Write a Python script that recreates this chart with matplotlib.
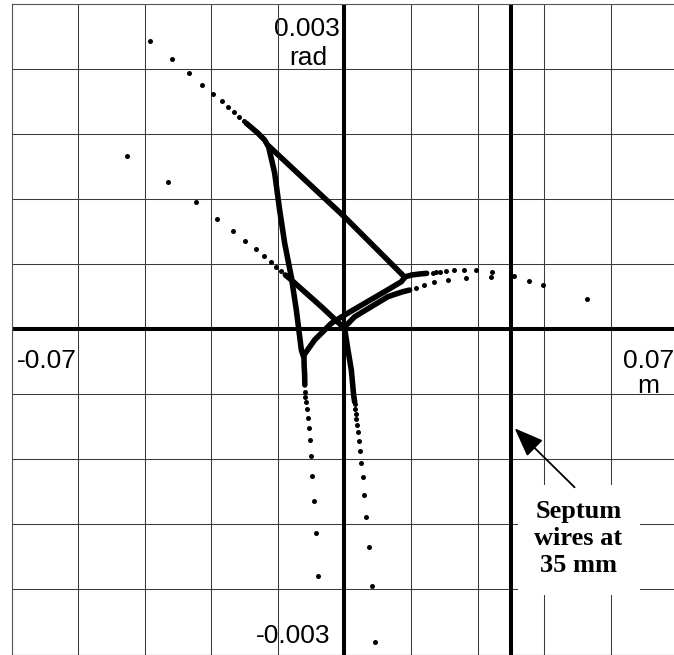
import numpy as np
import matplotlib
matplotlib.use("Agg")
import matplotlib.pyplot as plt
from matplotlib.patches import Rectangle

# phase space: x in mm, x' in mrad

# outer separatrix triangle (dense tracking -> drawn as thick lines)
edge_left_x = [-20.63, -18.25, -16.78, -15.94, -14.68, -13.63, -12.58, -11.17, -10.12, -9.06, -8.58]
edge_left_y = [1.896, 1.807, 1.742, 1.677, 1.438, 1.097, 0.793, 0.479, 0.175, -0.194, -0.258]

edge_top_x = [-15.94, 0.04, 12.66, 14.13, 15.81, 17.29]
edge_top_y = [1.687, 1.032, 0.479, 0.498, 0.507, 0.513]

edge_low_x = [12.66, 11.97, 8.45, 4.25, 0.04, -2.75, -6.27, -8.52, -8.48, -8.37, -8.33]
edge_low_y = [0.475, 0.436, 0.344, 0.237, 0.129, 0.053, -0.101, -0.240, -0.332, -0.424, -0.516]

# inner separatrix arms starting at the origin
inner_ul_x = [-12.43, -11.17, -4.86, 0.04]
inner_ul_y = [0.498, 0.452, 0.206, 0.005]

inner_r_x = [0.04, 2.15, 5.66, 9.15, 11.25, 12.30, 13.71]
inner_r_y = [0.018, 0.113, 0.206, 0.298, 0.329, 0.344, 0.359]

inner_d_x = [0.04, 0.67, 1.45, 1.93, 2.15]
inner_d_y = [0.005, -0.175, -0.378, -0.608, -0.673]

# particles leaving along the arms (sparse turns)
outer_ul_x = [-40.82, -36.19, -32.62, -29.88, -27.65, -25.82, -24.42, -23.15, -22.19, -21.20]
outer_ul_y = [2.654, 2.491, 2.360, 2.252, 2.169, 2.101, 2.046, 1.997, 1.954, 1.914]

outer_r_x = [18.61, 19.33, 20.17, 21.43, 23.03, 25.07, 27.59, 31.10, 35.58, 41.74, 51.00]
outer_r_y = [0.519, 0.523, 0.528, 0.535, 0.541, 0.541, 0.541, 0.528, 0.491, 0.408, 0.274]

outer_d_x = [-8.37, -8.22, -8.01, -7.89, -7.74, -7.53, -7.26, -7.05, -6.75, -6.33, -5.91, -5.49]
outer_d_y = [-0.578, -0.624, -0.676, -0.740, -0.818, -0.910, -1.026, -1.171, -1.352, -1.583, -1.880, -2.277]

arm_ul_x = [-45.74, -37.12, -31.15, -26.73, -23.45, -20.84, -18.67, -16.93, -15.52, -14.32, -13.27]
arm_ul_y = [1.595, 1.352, 1.168, 1.017, 0.903, 0.814, 0.735, 0.673, 0.618, 0.571, 0.532]

arm_r_x = [14.97, 16.80, 18.82, 21.77, 25.64, 30.85, 38.74]
arm_r_y = [0.381, 0.403, 0.430, 0.454, 0.473, 0.479, 0.445]

arm_d_x = [2.15, 2.29, 2.36, 2.50, 2.63, 2.84, 2.99, 3.26, 3.47, 3.83, 4.18, 4.61, 5.15, 5.78, 6.50]
arm_d_y = [-0.694, -0.740, -0.783, -0.832, -0.885, -0.952, -1.030, -1.122, -1.235, -1.367, -1.530,
           -1.736, -2.009, -2.366, -2.882]

septum_x = 35.0

fig = plt.figure(figsize=(6.74, 6.55), dpi=100)
ax = fig.add_axes([11.6 / 674, 0.5 / 655, 665.7 / 674, 651 / 655])
ax.set_xlim(-70, 70)
ax.set_ylim(-3, 3)
ax.set_xticks([])
ax.set_yticks([])
for s in ax.spines.values():
    s.set_color("#555555")
    s.set_linewidth(0.8)

# grid
for gx in np.arange(-70, 70.1, 14):
    ax.axvline(gx, color="#3a3a3a", lw=0.75, zorder=1)
for gy in np.arange(-3, 3.01, 0.6):
    ax.axhline(gy, color="#3a3a3a", lw=0.75, zorder=1)

# axes through the origin and the septum
ax.axhline(0, color="black", lw=2.9, zorder=2)
ax.axvline(0, color="black", lw=2.9, zorder=2)
ax.axvline(septum_x, color="black", lw=2.9, zorder=2)

lk = dict(color="black", lw=4.0, solid_capstyle="round", solid_joinstyle="round", zorder=4)
for xs, ys in [(edge_left_x, edge_left_y), (edge_top_x, edge_top_y), (edge_low_x, edge_low_y),
               (inner_ul_x, inner_ul_y), (inner_r_x, inner_r_y), (inner_d_x, inner_d_y)]:
    ax.plot(xs, ys, **lk)

mk = dict(ls="none", marker="o", ms=3.6, color="black", mec="none", zorder=4)
for xs, ys in [(outer_ul_x, outer_ul_y), (outer_r_x, outer_r_y), (outer_d_x, outer_d_y),
               (arm_ul_x, arm_ul_y), (arm_r_x, arm_r_y), (arm_d_x, arm_d_y)]:
    ax.plot(xs, ys, **mk)

# axis value labels (sit under the grid)
tk = dict(fontsize=19, family="Liberation Sans", zorder=0.5, va="baseline")
ax.text(-7.9, 2.705, "0.003", ha="center", **tk)
ax.text(-7.7, 2.433, "rad", ha="center", **tk)
ax.text(-62.6, -0.356, "-0.07", ha="center", **tk)
ax.text(58.5, -0.356, "0.07", ha="left", **tk)
ax.text(63.9, -0.590, "m", ha="center", **tk)
ax.text(-10.7, -2.894, "-0.003", ha="center", **tk)

# septum note
ax.add_patch(Rectangle((36.4, -2.45), 25.7, 1.01, facecolor="white", edgecolor="none", zorder=2.5))
ax.text(49.2, -1.93, "Septum\nwires at\n35 mm", ha="center", va="center", fontsize=19,
        family="Liberation Serif", fontweight="bold", linespacing=1.2, zorder=3)
ax.annotate("", xy=(35.8, -0.915), xytext=(48.4, -1.459),
            arrowprops=dict(arrowstyle="-|>,head_length=0.9,head_width=0.35", mutation_scale=20,
                            lw=1.3, color="black", shrinkA=0, shrinkB=0), zorder=3)

fig.savefig("out.png", dpi=100)
